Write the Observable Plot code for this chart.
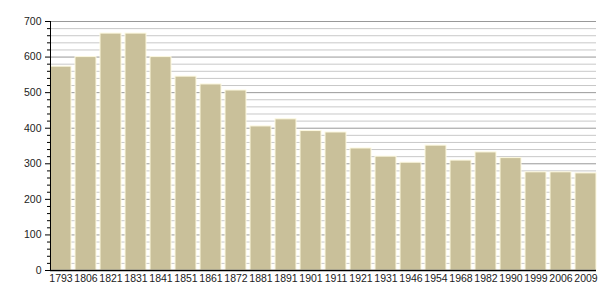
<!DOCTYPE html>
<html>
<head>
<meta charset="utf-8">
<script src="https://cdn.jsdelivr.net/npm/d3@7"></script>
<script src="https://cdn.jsdelivr.net/npm/@observablehq/plot@0.6"></script>
<style>
  html, body { margin: 0; padding: 0; background: #fff; }
  #chart svg { display: block; }
</style>
</head>
<body>
<div id="chart"></div>
<script>
const years = ["1793","1806","1821","1831","1841","1851","1861","1872","1881","1891","1901","1911","1921","1931","1946","1954","1968","1982","1990","1999","2006","2009"];
const population = [573, 600, 666, 666, 600, 545, 523, 506, 405, 425, 392, 388, 343, 320, 303, 351, 309, 332, 316, 276, 276, 273];
const majorTicks = [0, 100, 200, 300, 400, 500, 600, 700];
const minorTicks = d3.range(0, 701, 20).filter(v => v % 100 !== 0);

const data = years.map((y, i) => ({year: y, value: population[i]}));

const chart = Plot.plot({
  width: 605,
  height: 300,
  marginLeft: 50,
  marginRight: 9,
  marginTop: 21,
  marginBottom: 30,
  style: {fontFamily: "'Liberation Sans', Arial, sans-serif", fontSize: "10.5px", color: "#222", background: "#fff"},
  x: {domain: years, paddingInner: 0.16, paddingOuter: 0, label: null},
  y: {domain: [0, 700], label: null},
  marks: [
    Plot.ruleY(minorTicks, {stroke: "#c8c8c8", strokeWidth: 1}),
    Plot.ruleY(majorTicks.filter(v => v > 0), {stroke: "#999", strokeWidth: 1}),
    Plot.barY(data, {x: "year", y: "value", fill: "#c9c09a", stroke: "#fdf9e0", strokeWidth: 1}),
    Plot.axisY(minorTicks, {tickSize: 3, text: null, stroke: "#000"}),
    Plot.axisY(majorTicks, {tickSize: 5, tickPadding: 4, stroke: "#000", fill: "#222"}),
    Plot.axisX({tickSize: 0, tickPadding: 4, fill: "#222"}),
    Plot.frame({anchor: "left", stroke: "#000"}),
    Plot.ruleY([0], {stroke: "#000", strokeWidth: 1.5})
  ]
});
document.getElementById("chart").appendChild(chart);
</script>
</body>
</html>
